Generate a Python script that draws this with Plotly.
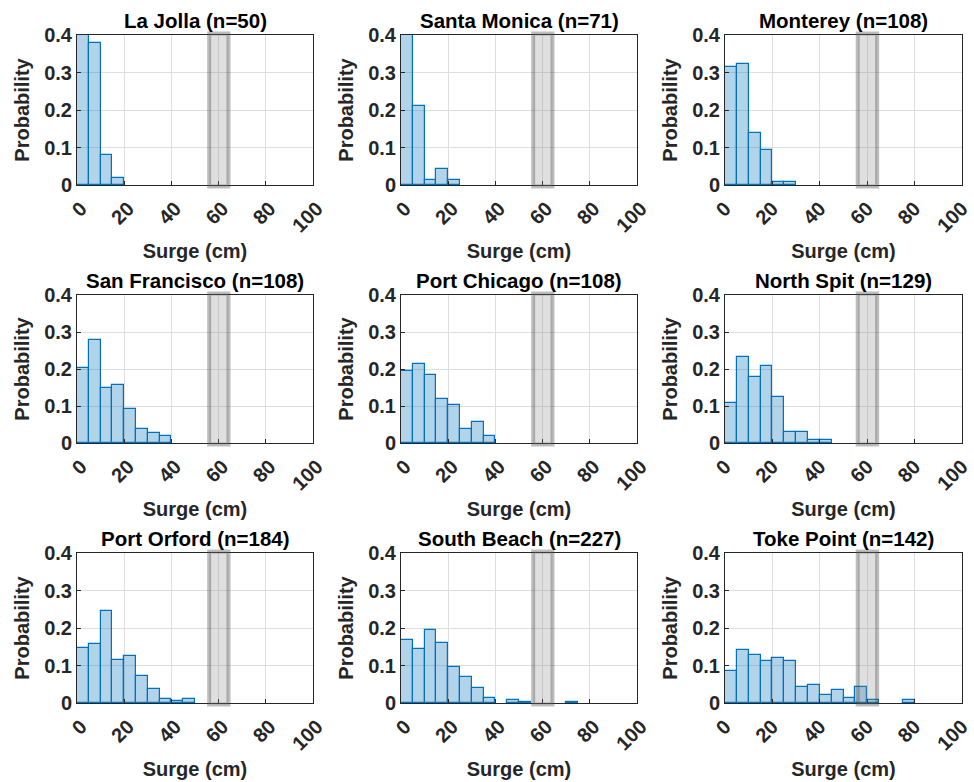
import plotly.graph_objects as go

# Bin edges (cm) – 5 cm bins from 0 to 100
bin_width = 5
bin_starts = list(range(0, 100, 5))

stations = ["La Jolla", "Santa Monica", "Monterey",
            "San Francisco", "Port Chicago", "North Spit",
            "Port Orford", "South Beach", "Toke Point"]
counts_n = [50, 71, 108, 108, 108, 129, 184, 227, 142]

# Probabilities per 5-cm bin (0-5, 5-10, ...)
la_jolla = [0.52, 0.38, 0.08, 0.02]
santa_monica = [0.718, 0.211, 0.014, 0.042, 0.014]
monterey = [0.315, 0.324, 0.139, 0.093, 0.009, 0.009]
san_francisco = [0.204, 0.278, 0.148, 0.157, 0.093, 0.037, 0.028, 0.019]
port_chicago = [0.194, 0.213, 0.185, 0.120, 0.102, 0.037, 0.056, 0.019]
north_spit = [0.109, 0.233, 0.178, 0.209, 0.124, 0.031, 0.031, 0.008, 0.008]
port_orford = [0.147, 0.158, 0.245, 0.114, 0.125, 0.071, 0.038, 0.011, 0.005, 0.011]
south_beach = [0.167, 0.145, 0.194, 0.159, 0.097, 0.070, 0.040, 0.013, 0.0,
               0.009, 0.004, 0.0, 0.0, 0.0, 0.004]
toke_point = [0.085, 0.141, 0.127, 0.113, 0.120, 0.113, 0.042, 0.049, 0.021,
              0.035, 0.014, 0.042, 0.007, 0.0, 0.0, 0.007]

series = [la_jolla, santa_monica, monterey, san_francisco, port_chicago,
          north_spit, port_orford, south_beach, toke_point]

# Gray reference band (cm)
band_lo, band_hi = 56.0, 64.2

x_ticks = [0, 20, 40, 60, 80, 100]
y_ticks = [0, 0.1, 0.2, 0.3, 0.4]
y_tick_text = ["0", "0.1", "0.2", "0.3", "0.4"]

# Layout geometry (paper fractions)
W, H = 974, 782
col_px = [(77, 313), (401, 637), (725, 962)]
row_px = [(35, 185), (295, 443), (553, 703)]
label_shift = [4, 4, 0]

FONT = "Liberation Sans, Arial, Helvetica, sans-serif"
TXT = "#262626"
FS = 20

fig = go.Figure()
annotations = []
shapes = []

for i, (name, n, vals) in enumerate(zip(stations, counts_n, series)):
    r, c = divmod(i, 3)
    idx = i + 1
    xa = "x" if idx == 1 else f"x{idx}"
    ya = "y" if idx == 1 else f"y{idx}"
    xs, ys = [], []
    for b, v in zip(bin_starts, vals):
        if v > 0:
            xs.append(b + bin_width / 2)
            ys.append(v)
    fig.add_trace(go.Bar(
        x=xs, y=ys, width=bin_width, xaxis=xa, yaxis=ya,
        marker=dict(color="rgba(0,114,189,0.3)",
                    line=dict(color="rgb(0,114,189)", width=1.2)),
        showlegend=False, hoverinfo="x+y",
    ))
    x0, x1 = col_px[c]
    y0, y1 = row_px[r]
    dom_x = [x0 / W, x1 / W]
    dom_y = [1 - y1 / H, 1 - y0 / H]
    ax_common = dict(
        showline=True, linecolor=TXT, linewidth=1, mirror=True,
        ticks="inside", ticklen=4, tickcolor=TXT,
        showgrid=True, gridcolor="#dedede", gridwidth=1,
        zeroline=False, automargin=False, ticklabeloverflow="allow",
        tickfont=dict(family=FONT, size=FS, color=TXT, weight="bold"),
    )
    fig.update_layout(**{
        ("xaxis" if idx == 1 else f"xaxis{idx}"): dict(
            domain=dom_x, anchor=ya, range=[0, 100],
            tickvals=x_ticks, tickangle=-45,
            ticklabelshift=label_shift[c], ticklabelstandoff=3,
            title=dict(text="Surge (cm)", standoff=8,
                       font=dict(family=FONT, size=FS, color=TXT, weight="bold")),
            **ax_common),
        ("yaxis" if idx == 1 else f"yaxis{idx}"): dict(
            domain=dom_y, anchor=xa, range=[0, 0.4],
            tickvals=y_ticks, ticktext=y_tick_text,
            title=dict(text="Probability", standoff=9,
                       font=dict(family=FONT, size=FS, color=TXT, weight="bold")),
            **ax_common),
    })
    annotations.append(dict(
        text=f"<b>{name} (n={n})</b>", xref="paper", yref="paper",
        x=(dom_x[0] + dom_x[1]) / 2, y=dom_y[1], xanchor="center",
        yanchor="bottom", yshift=1, showarrow=False,
        font=dict(family=FONT, size=FS + 0.5, color="#000000"),
    ))
    shapes.append(dict(
        type="rect", xref=xa, yref=f"{ya} domain",
        x0=band_lo, x1=band_hi, y0=-0.01, y1=1.01,
        fillcolor="rgba(128,128,128,0.25)",
        line=dict(color="rgba(70,70,70,0.35)", width=4),
        layer="above",
    ))

fig.update_layout(
    width=W, height=H, margin=dict(l=0, r=0, t=0, b=0),
    plot_bgcolor="white", paper_bgcolor="white",
    annotations=annotations, shapes=shapes, bargap=0,
    font=dict(family=FONT, color=TXT),
)

fig.write_html("out.html")
